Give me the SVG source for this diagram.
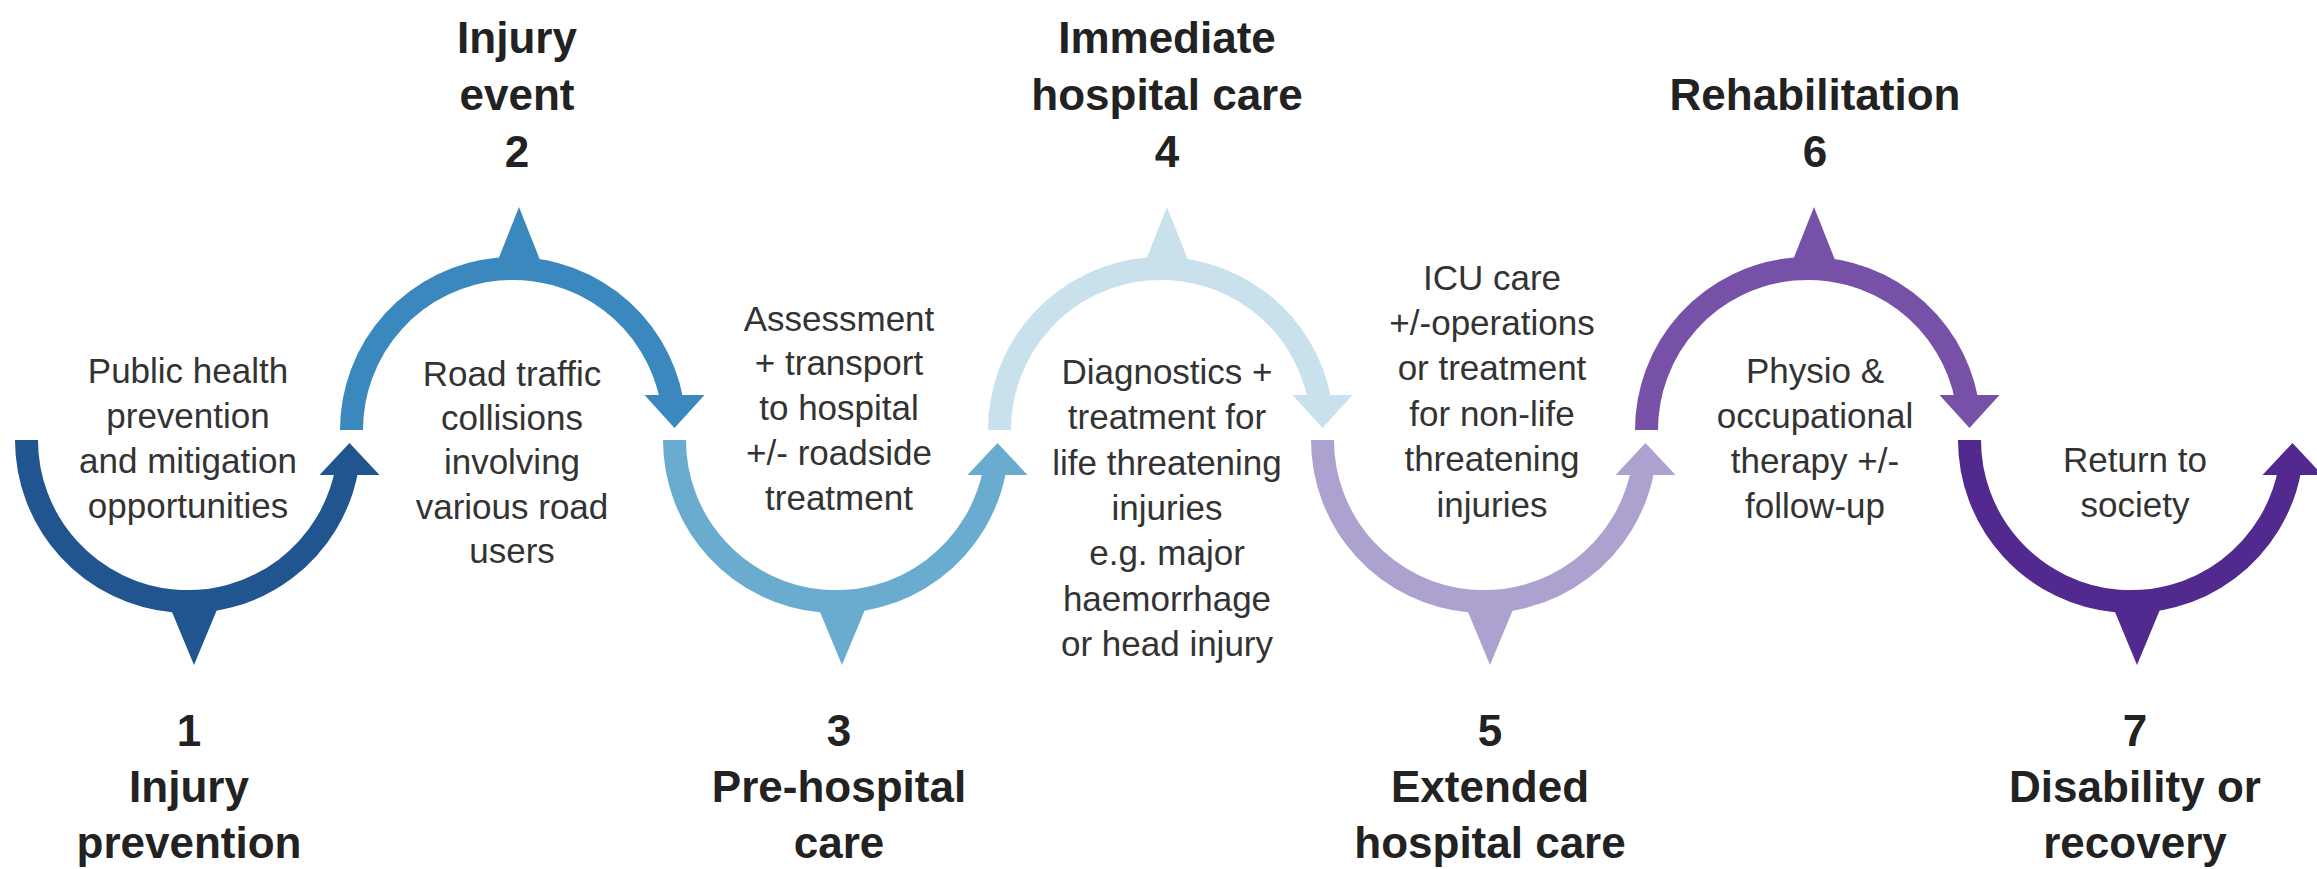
<svg xmlns="http://www.w3.org/2000/svg" width="2317" height="869" viewBox="0 0 2317 869">
<style>
.arc{fill:none;stroke-width:23;stroke-linecap:butt}
.hd{font-family:"Liberation Sans",Arial,sans-serif;font-weight:bold;font-size:44px;fill:#222;text-anchor:middle}
.bd{font-family:"Liberation Sans",Arial,sans-serif;font-size:35px;fill:#333;text-anchor:middle}
.c1{stroke:#20558f;fill:#20558f}
.c2{stroke:#3b88bf;fill:#3b88bf}
.c3{stroke:#6aaccf;fill:#6aaccf}
.c4{stroke:#c9e1ed;fill:#c9e1ed}
.c5{stroke:#ada2cf;fill:#ada2cf}
.c6{stroke:#7751a7;fill:#7751a7}
.c7{stroke:#522a8f;fill:#522a8f}
</style>
<rect width="2317" height="869" fill="#ffffff"/>
<g id="connectors">
  <!-- arc 1 bottom cx=188 -->
  <g class="c1">
    <path class="arc" d="M26.5,440 A161.5,161.5 0 0 0 346.7,470"/>
    <polygon stroke="none" points="319.5,475 349.5,443 379.5,475"/>
    <polygon stroke="none" points="167,600 221,600 194,665"/>
  </g>
  <!-- arc 2 top cx=513 -->
  <g class="c2">
    <path class="arc" d="M351.5,430 A161.5,161.5 0 0 1 671.7,400"/>
    <polygon stroke="none" points="644.5,395 674.5,428 704.5,395"/>
    <polygon stroke="none" points="494,270 544,270 519,207"/>
  </g>
  <!-- arc 3 bottom cx=836 -->
  <g class="c3">
    <path class="arc" d="M674.5,440 A161.5,161.5 0 0 0 994.7,470"/>
    <polygon stroke="none" points="967.5,475 997.5,443 1027.5,475"/>
    <polygon stroke="none" points="815,600 869,600 842,665"/>
  </g>
  <!-- arc 4 top cx=1161 -->
  <g class="c4">
    <path class="arc" d="M999.5,430 A161.5,161.5 0 0 1 1319.7,400"/>
    <polygon stroke="none" points="1292.5,395 1322.5,428 1352.5,395"/>
    <polygon stroke="none" points="1142,270 1192,270 1167,207"/>
  </g>
  <!-- arc 5 bottom cx=1484 -->
  <g class="c5">
    <path class="arc" d="M1322.5,440 A161.5,161.5 0 0 0 1642.7,470"/>
    <polygon stroke="none" points="1615.5,475 1645.5,443 1675.5,475"/>
    <polygon stroke="none" points="1463,600 1517,600 1490,665"/>
  </g>
  <!-- arc 6 top cx=1808 -->
  <g class="c6">
    <path class="arc" d="M1646.5,430 A161.5,161.5 0 0 1 1966.7,400"/>
    <polygon stroke="none" points="1939.5,395 1969.5,428 1999.5,395"/>
    <polygon stroke="none" points="1789,270 1839,270 1814,207"/>
  </g>
  <!-- arc 7 bottom cx=2131 -->
  <g class="c7">
    <path class="arc" d="M1969.5,440 A161.5,161.5 0 0 0 2289.7,470"/>
    <polygon stroke="none" points="2262.5,475 2292.5,443 2322.5,475"/>
    <polygon stroke="none" points="2110,600 2164,600 2137,665"/>
  </g>
</g>
<g id="node1">
  <text class="hd" x="189" y="746">1</text>
  <text class="hd" x="189" y="802">Injury</text>
  <text class="hd" x="189" y="858">prevention</text>
  <text class="bd" x="188" y="383">Public health</text>
  <text class="bd" x="188" y="428">prevention</text>
  <text class="bd" x="188" y="473">and mitigation</text>
  <text class="bd" x="188" y="518">opportunities</text>
</g>
<g id="node2">
  <text class="hd" x="517" y="53">Injury</text>
  <text class="hd" x="517" y="110">event</text>
  <text class="hd" x="517" y="167">2</text>
  <text class="bd" x="512" y="386">Road traffic</text>
  <text class="bd" x="512" y="430">collisions</text>
  <text class="bd" x="512" y="474">involving</text>
  <text class="bd" x="512" y="519">various road</text>
  <text class="bd" x="512" y="563">users</text>
</g>
<g id="node3">
  <text class="hd" x="839" y="746">3</text>
  <text class="hd" x="839" y="802">Pre-hospital</text>
  <text class="hd" x="839" y="858">care</text>
  <text class="bd" x="839" y="331">Assessment</text>
  <text class="bd" x="839" y="375">+ transport</text>
  <text class="bd" x="839" y="420">to hospital</text>
  <text class="bd" x="839" y="465">+/- roadside</text>
  <text class="bd" x="839" y="510">treatment</text>
</g>
<g id="node4">
  <text class="hd" x="1167" y="53">Immediate</text>
  <text class="hd" x="1167" y="110">hospital care</text>
  <text class="hd" x="1167" y="167">4</text>
  <text class="bd" x="1167" y="384">Diagnostics +</text>
  <text class="bd" x="1167" y="429">treatment for</text>
  <text class="bd" x="1167" y="475">life threatening</text>
  <text class="bd" x="1167" y="520">injuries</text>
  <text class="bd" x="1167" y="565">e.g. major</text>
  <text class="bd" x="1167" y="611">haemorrhage</text>
  <text class="bd" x="1167" y="656">or head injury</text>
</g>
<g id="node5">
  <text class="hd" x="1490" y="746">5</text>
  <text class="hd" x="1490" y="802">Extended</text>
  <text class="hd" x="1490" y="858">hospital care</text>
  <text class="bd" x="1492" y="290">ICU care</text>
  <text class="bd" x="1492" y="335">+/-operations</text>
  <text class="bd" x="1492" y="380">or treatment</text>
  <text class="bd" x="1492" y="426">for non-life</text>
  <text class="bd" x="1492" y="471">threatening</text>
  <text class="bd" x="1492" y="517">injuries</text>
</g>
<g id="node6">
  <text class="hd" x="1815" y="110">Rehabilitation</text>
  <text class="hd" x="1815" y="167">6</text>
  <text class="bd" x="1815" y="383">Physio &amp;</text>
  <text class="bd" x="1815" y="428">occupational</text>
  <text class="bd" x="1815" y="473">therapy +/-</text>
  <text class="bd" x="1815" y="518">follow-up</text>
</g>
<g id="node7">
  <text class="hd" x="2135" y="746">7</text>
  <text class="hd" x="2135" y="802">Disability or</text>
  <text class="hd" x="2135" y="858">recovery</text>
  <text class="bd" x="2135" y="472">Return to</text>
  <text class="bd" x="2135" y="517">society</text>
</g>
</svg>
